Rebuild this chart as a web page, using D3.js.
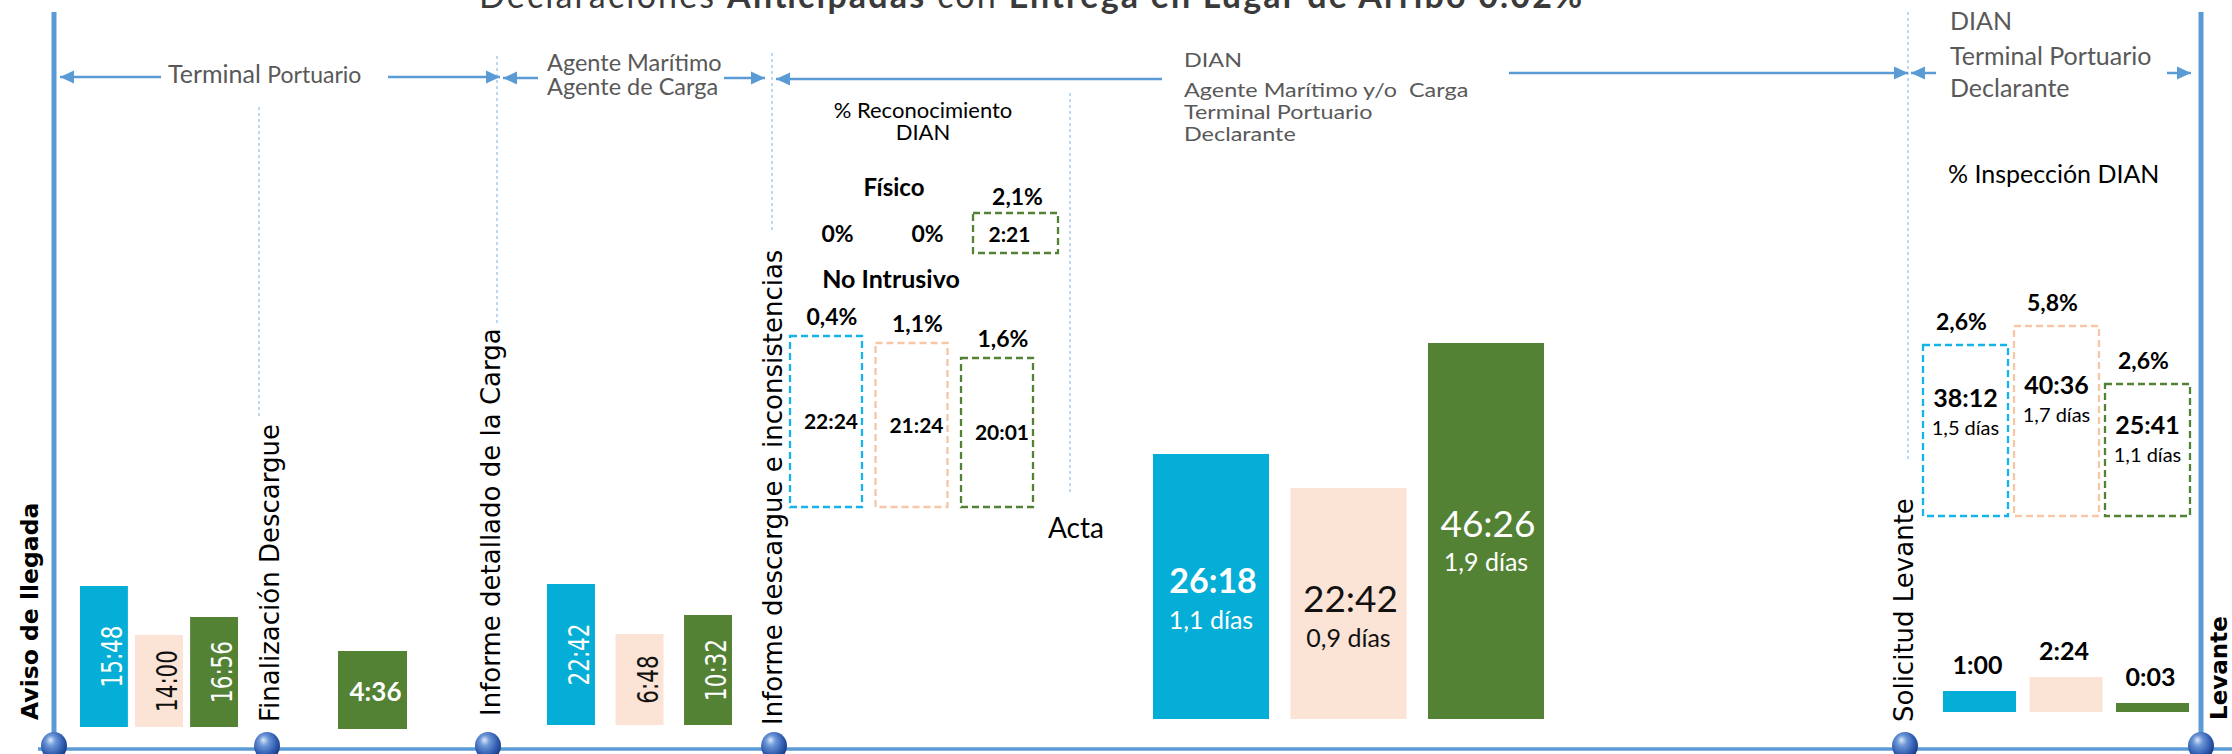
<!DOCTYPE html>
<html><head><meta charset="utf-8">
<script src="https://cdn.jsdelivr.net/npm/d3@7"></script>
<style>html,body{margin:0;padding:0;background:#fff}svg{display:block}</style>
</head><body>
<svg id="c" width="2232" height="754"></svg>
<script>
// ---------------- DATA ----------------
const titulo = [["Declaraciones ",400],["Anticipadas",700],[" con ",400],["Entrega en Lugar de Arribo 0.02%",700]];
const serie = ["Serie A","Serie B","Serie C"];
const hitos = ["Aviso de llegada","Finalización Descargue","Informe detallado de la Carga","Informe descargue e inconsistencias","Solicitud Levante","Levante"];

const llegadaEtiquetas = ["15:48","14:00","16:56"];
const llegadaMagnitud  = [14.1, 9.2, 11.0];
const descargueEtiquetas = ["4:36"];
const descargueMagnitud  = [7.8];
const informeEtiquetas = ["22:42","6:48","10:32"];
const informeMagnitud  = [14.1, 9.1, 11.0];

const fisicoPct = ["0%","0%","2,1%"];
const fisicoEtiquetas = ["2:21"];
const fisicoMagnitud  = [4.0];
const noIntrusivoPct = ["0,4%","1,1%","1,6%"];
const noIntrusivoEtiquetas = ["22:24","21:24","20:01"];
const noIntrusivoMagnitud  = [17.1, 16.4, 14.9];

const actaEtiquetas = ["26:18","22:42","46:26"];
const actaDias = ["1,1 días","0,9 días","1,9 días"];
const actaMagnitud = [26.5, 23.1, 37.6];

const inspeccionPct = ["2,6%","5,8%","2,6%"];
const inspeccionEtiquetas = ["38:12","40:36","25:41"];
const inspeccionDias = ["1,5 días","1,7 días","1,1 días"];
const inspeccionMagnitud = [17.1, 19.0, 13.2];

const levanteEtiquetas = ["1:00","2:24","0:03"];
const levanteMagnitud  = [2.1, 3.5, 0.9];

// ---------------- STYLE / LAYOUT ----------------
const svg = d3.select("#c");
const LATO = "Lato, 'Open Sans', sans-serif";
const DEJA = "'DejaVu Sans', Verdana, sans-serif";
const AZUL = "#5B9BD5";
const GRIS = "#595959";
const alto = d3.scaleLinear().domain([0, 10]).range([0, 100]);
const relleno = d3.scaleOrdinal().domain(serie).range(["#05AED6","#FBE3D5","#548235"]);
const trazo   = d3.scaleOrdinal().domain(serie).range(["#14B4EA","#F6C6A6","#548235"]);
const tinta   = d3.scaleOrdinal().domain(serie).range(["#ffffff","#111111","#ffffff"]);

const defs = svg.append("defs");
const rg = defs.append("radialGradient").attr("id","bola").attr("cx","42%").attr("cy","38%").attr("r","62%").attr("fx","36%").attr("fy","28%");
rg.append("stop").attr("offset","0%").attr("stop-color","#DCE9FA");
rg.append("stop").attr("offset","30%").attr("stop-color","#6E98D8");
rg.append("stop").attr("offset","75%").attr("stop-color","#2E5AAE");
rg.append("stop").attr("offset","100%").attr("stop-color","#1A3B82");

// Title
const tt = svg.append("text").attr("x", 479).attr("y", 8)
  .attr("font-family", LATO).attr("font-size", 34).attr("fill", "#3a3a3a")
  .attr("textLength", 1103).attr("lengthAdjust", "spacing");
tt.selectAll("tspan").data(titulo).join("tspan").attr("font-weight", d => d[1]).text(d => d[0]);

// Frame lines
const hitoX = [54, 267, 488, 774, 1905, 2201];
svg.append("line").attr("x1", 38).attr("x2", 2232).attr("y1", 749).attr("y2", 749).attr("stroke", AZUL).attr("stroke-width", 3.5);
[hitoX[0], hitoX[5]].forEach(x => svg.append("line").attr("x1", x).attr("x2", x).attr("y1", 12).attr("y2", 745)
  .attr("stroke", AZUL).attr("stroke-width", 5));

// dotted guide lines
const guias = [[259,107,418],[497,56,326],[772,53,232],[1070,93,492],[1908,12,462]];
guias.forEach(([x,y1,y2]) => svg.append("line").attr("x1",x).attr("x2",x).attr("y1",y1).attr("y2",y2)
  .attr("stroke","#9DC3E6").attr("stroke-width",1.3).attr("stroke-dasharray","3,3"));

// arrows
const flechas = [
  {x1:60, x2:161, y:77, tip:-1}, {x1:388, x2:500, y:77, tip:1},
  {x1:503, x2:538, y:78, tip:-1}, {x1:724, x2:765, y:78, tip:1},
  {x1:776, x2:1162, y:79, tip:-1}, {x1:1509, x2:1908, y:73, tip:1},
  {x1:1911, x2:1936, y:73, tip:-1}, {x1:2167, x2:2191, y:73, tip:1}
];
flechas.forEach(f => {
  svg.append("line").attr("x1", f.x1).attr("x2", f.x2).attr("y1", f.y).attr("y2", f.y)
    .attr("stroke", AZUL).attr("stroke-width", 2.5);
  const tx = f.tip < 0 ? f.x1 : f.x2;
  svg.append("polygon").attr("fill", AZUL)
    .attr("points", [[tx, f.y],[tx - f.tip*14, f.y-6.5],[tx - f.tip*14, f.y+6.5]].map(p => p.join(",")).join(" "));
});

// header texts
function bloque(x, ys, lineas, size, sx) {
  const g = svg.append("g").attr("transform", `translate(${x},0) scale(${sx||1},1)`);
  lineas.forEach((l, i) => g.append("text").attr("x", 0).attr("y", ys[i]).attr("font-family", LATO)
    .attr("font-weight", 400).attr("font-size", size).attr("fill", GRIS)
    .style("white-space", "pre").text(l));
}
const tp = svg.append("text").attr("x", 168).attr("y", 83).attr("font-family", LATO).attr("font-weight", 400).attr("fill", GRIS);
tp.append("tspan").attr("font-size", 25).text("Terminal ");
tp.append("tspan").attr("font-size", 23).text("Portuario");
bloque(547, [71, 95], ["Agente Marítimo","Agente de Carga"], 23.5);
bloque(1184, [67, 97, 119, 141], ["DIAN","Agente Marítimo y/o  Carga","Terminal Portuario","Declarante"], 20, 1.17);
bloque(1950, [30, 65, 97], ["DIAN","Terminal Portuario","Declarante"], 25);

// milestone labels (rotated)
const hitoLabel = [[38,720,23.5,700],[279,722,26,400],[500,716,26,400],[782,725,26,400],[1913,722,26,400],[2227,720,23,700]];
hitos.forEach((h, i) => {
  const [bx, by, fs, fw] = hitoLabel[i];
  svg.append("text").attr("transform", `translate(${bx},${by}) rotate(-90)`)
    .attr("font-family", DEJA).attr("font-size", fs).attr("font-weight", fw).attr("fill", "#000").text(h);
});

// ---------------- PANELS ----------------
function panel(dom, rango, pad, base, magnitud, dashed) {
  const x = d3.scaleBand().domain(dom).range(rango).paddingInner(pad).paddingOuter(0);
  const datos = dom.map((s, i) => ({ s, i, v: magnitud[i], top: base - alto(magnitud[i]), h: alto(magnitud[i]), cx: x(s) + x.bandwidth()/2 }));
  const r = svg.append("g").selectAll("rect").data(datos).join("rect")
    .attr("x", d => x(d.s)).attr("width", x.bandwidth())
    .attr("y", d => d.top).attr("height", d => d.h);
  if (dashed) r.attr("fill", "none").attr("stroke", d => trazo(d.s)).attr("stroke-width", 2.3).attr("stroke-dasharray", "7,4");
  else r.attr("fill", d => relleno(d.s));
  return { x, datos };
}
function txt(x, y, s, opts) {
  const t = svg.append("text").attr("x", x).attr("y", y).attr("dy", "0.36em").attr("text-anchor", opts.anchor || "middle")
    .attr("font-family", opts.font || LATO).attr("font-size", opts.size).attr("font-weight", opts.weight || 400)
    .attr("fill", opts.fill || "#000").text(s);
  return t;
}
function rotados(p, etiquetas) {
  p.datos.forEach(d => {
    svg.append("text").attr("transform", `translate(${d.cx + 8},${d.top + d.h/2}) rotate(-90) scale(1,1.3)`)
      .attr("dy", "0.36em").attr("text-anchor", "middle").attr("font-family", DEJA).attr("font-size", 21.5)
      .attr("fill", tinta(d.s)).text(etiquetas[d.i]);
  });
}

// Aviso -> Finalización
const p1 = panel(serie, [80, 238], 0.13, 727, llegadaMagnitud, false);
rotados(p1, llegadaEtiquetas);
// Finalización -> Informe detallado
const p2 = panel([serie[2]], [338, 407], 0, 729, descargueMagnitud, false);
p2.datos.forEach(d => txt(d.cx + 3, d.top + d.h/2 + 2, descargueEtiquetas[d.i], {size: 26, weight: 700, fill: "#fff"}));
// Informe detallado -> Informe descargue
const p3 = panel(serie, [547, 732], 0.30, 725, informeMagnitud, false);
rotados(p3, informeEtiquetas);

// Reconocimiento DIAN
txt(923, 110, "% Reconocimiento", {size: 22});
txt(923, 132, "DIAN", {size: 22});
txt(894, 187, "Físico", {size: 24, weight: 700});
txt(891, 279, "No Intrusivo", {size: 25, weight: 700});
const pf = panel(serie, [793, 1058], 0.056, 253, [0, 0, fisicoMagnitud[0]], true);
pf.datos.forEach(d => {
  if (d.v > 0) {
    txt(d.cx + 2, d.top - 16, fisicoPct[d.i], {size: 23, weight: 700});
    txt(d.cx - 6, d.top + d.h/2 + 1, fisicoEtiquetas[0], {size: 21, weight: 700});
  } else {
    txt(d.cx + 2, 234, fisicoPct[d.i], {size: 23, weight: 700});
  }
});
const pn = panel(serie, [790, 1033], 0.158, 507, noIntrusivoMagnitud, true);
pn.datos.forEach(d => {
  txt(d.cx + 6, d.top - 19, noIntrusivoPct[d.i], {size: 23, weight: 700});
  txt(d.cx + 5, d.top + d.h/2, noIntrusivoEtiquetas[d.i], {size: 21, weight: 700});
});
txt(1048, 528, "Acta", {size: 28, anchor: "start"});

// Acta -> Solicitud Levante
const pa = panel(serie, [1153, 1544], 0.156, 719, actaMagnitud, false);
pa.datos.forEach(d => {
  const yc = d.top + d.h * 0.48;
  txt(d.cx + 2, yc, actaEtiquetas[d.i], {size: d.i === 0 ? 34 : 37, weight: d.i === 0 ? 700 : 400, fill: tinta(d.s)});
  txt(d.cx, yc + 39, actaDias[d.i], {size: 25, fill: tinta(d.s)});
});

// Inspección DIAN
txt(1948, 174, "% Inspección DIAN", {size: 25, anchor: "start"});
const pi = panel(serie, [1923, 2190], 0.066, 516, inspeccionMagnitud, true);
pi.datos.forEach(d => {
  const yc = d.top + d.h * 0.31;
  txt(d.cx - 4, d.top - 23, inspeccionPct[d.i], {size: 23, weight: 700});
  txt(d.cx, yc, inspeccionEtiquetas[d.i], {size: 25, weight: 700});
  txt(d.cx, yc + 30, inspeccionDias[d.i], {size: 20});
});
const pl = panel(serie, [1943, 2189], 0.156, 712, levanteMagnitud, false);
pl.datos.forEach(d => txt(d.cx - 2, d.top - 26, levanteEtiquetas[d.i], {size: 25, weight: 700}));

// spheres on the timeline
svg.append("g").selectAll("ellipse").data(hitoX).join("ellipse")
  .attr("cx", d => d).attr("cy", 746).attr("rx", 13).attr("ry", 14).attr("fill", "url(#bola)");
</script>
</body></html>
